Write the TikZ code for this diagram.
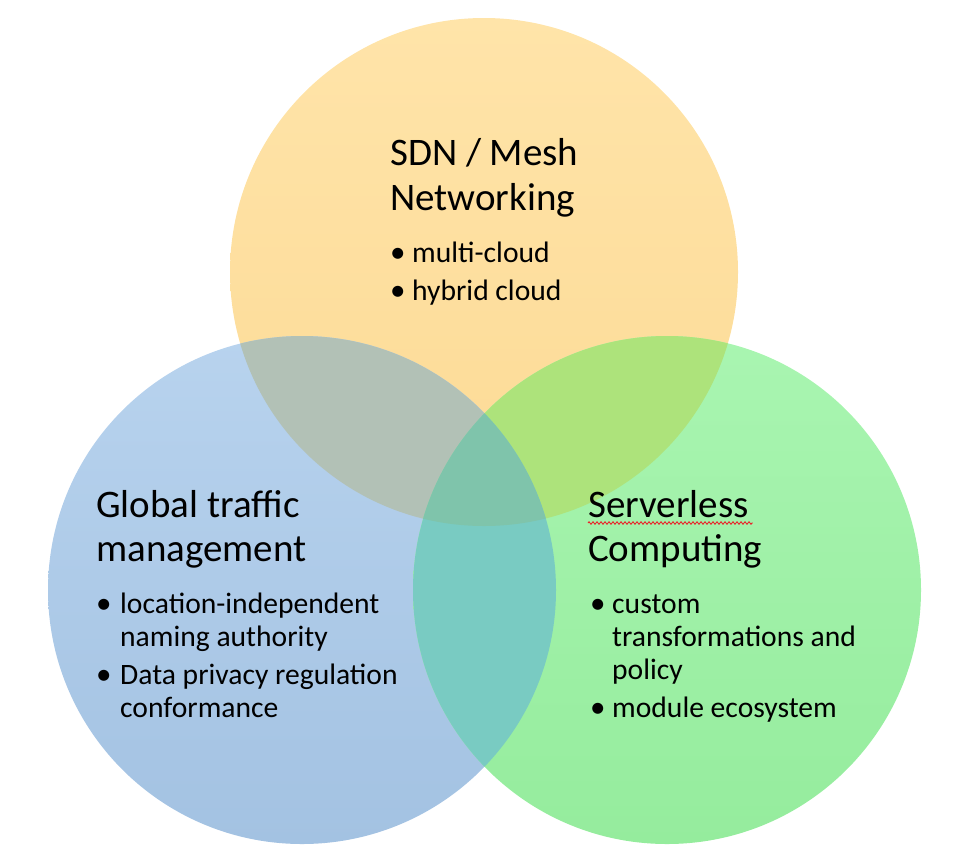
\documentclass[tikz,border=0pt]{standalone}
\usepackage{fontspec}
\setmainfont{Carlito}
\usetikzlibrary{decorations.pathmorphing}
\definecolor{oTop}{HTML}{FFE4A9}
\definecolor{oBot}{HTML}{FCDA95}
\definecolor{bTop}{HTML}{B8D3EE}
\definecolor{bBot}{HTML}{A3C2E2}
\definecolor{gTop}{HTML}{A9F5B1}
\definecolor{gBot}{HTML}{95EC9D}
\definecolor{ob}{HTML}{B2C1B6}
\definecolor{og}{HTML}{ADE37B}
\definecolor{bg}{HTML}{79CBC2}
\definecolor{obg}{HTML}{7FC4AB}
\definecolor{squig}{HTML}{E8262B}
\begin{document}
\begin{tikzpicture}[x=1pt,y=-1pt,
  ttl/.style={anchor=base west, inner sep=0pt, font=\fontsize{39}{44}\selectfont},
  itm/.style={anchor=base west, inner sep=0pt, font=\fontsize{29.6}{33}\selectfont},
  bul/.style={anchor=base west, inner sep=0pt, font=\fontsize{31}{33}\selectfont}]
\useasboundingbox (0,0) rectangle (958,852);
\coordinate (cO) at (484,272);
\coordinate (cB) at (302,590);
\coordinate (cG) at (667,590);
\def\R{254pt}
% base circles
\shade[top color=oTop, bottom color=oBot] (cO) circle (\R);
\shade[top color=bTop, bottom color=bBot] (cB) circle (\R);
\shade[top color=gTop, bottom color=gBot] (cG) circle (\R);
% pairwise overlaps
\begin{scope}\clip (cO) circle (\R); \fill[ob] (cB) circle (\R); \end{scope}
\begin{scope}\clip (cO) circle (\R); \fill[og] (cG) circle (\R); \end{scope}
\begin{scope}\clip (cB) circle (\R); \fill[bg] (cG) circle (\R); \end{scope}
\begin{scope}\clip (cO) circle (\R); \clip (cB) circle (\R); \fill[obg] (cG) circle (\R); \end{scope}
% top text
\node[ttl] (o1) at (390,165) {SDN / Mesh};
\node[ttl] (o2) at (390,210) {Networking};
\node[bul] (ob1) at (390,262) {\textbullet};
\node[itm] (o3) at (412,262) {multi-cloud};
\node[bul] (ob2) at (390,300) {\textbullet};
\node[itm] (o4) at (412,300) {hybrid cloud};
% blue text
\node[ttl] (b1) at (96,517) {Global traffic};
\node[ttl] (b2) at (96,561) {management};
\node[bul] (bb1) at (96,613) {\textbullet};
\node[itm] (b3) at (120,613) {location-independent};
\node[itm] (b4) at (120,646) {naming authority};
\node[bul] (bb2) at (96,684) {\textbullet};
\node[itm] (b5) at (120,684) {Data privacy regulation};
\node[itm] (b6) at (120,717) {conformance};
% green text
\node[ttl] (g1) at (588,517) {Serverless};
\node[ttl] (g2) at (588,561) {Computing};
\node[bul] (gb1) at (590,613) {\textbullet};
\node[itm] (g3) at (612,613) {custom};
\node[itm] (g4) at (612,646) {transformations and};
\node[itm] (g5) at (612,679) {policy};
\node[bul] (gb2) at (590,717) {\textbullet};
\node[itm] (g6) at (612,717) {module ecosystem};
% spell-check squiggle
\draw[squig, line width=0.9pt, decorate, decoration={zigzag, segment length=4pt, amplitude=1.2pt}]
  ([yshift=-6pt]g1.base west) -- ([yshift=-6pt,xshift=4pt]g1.base east);
\end{tikzpicture}
\end{document}
